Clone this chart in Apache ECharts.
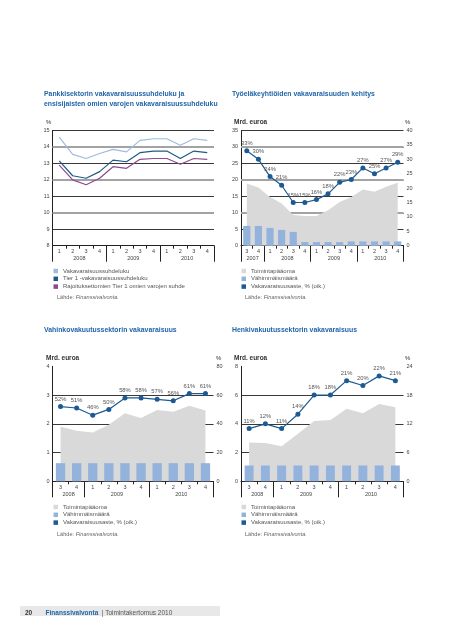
<!DOCTYPE html>
<html><head><meta charset="utf-8">
<script src="https://cdn.jsdelivr.net/npm/echarts@6/dist/echarts.min.js"></script>
<style>html,body{margin:0;padding:0;background:#fff}#c{width:453px;height:640px}</style>
</head><body><div id="c"></div>
<script>
// ---- Chart A: Pankkisektorin vakavaraisuussuhdeluku
const aQuarters = ['1','2','3','4','1','2','3','4','1','2','3','4'];
const aYears = [['2008',4],['2009',4],['2010',4]];
const aTotal = [14.6,13.55,13.3,13.6,13.85,13.7,14.4,14.5,14.5,14.1,14.5,14.4];
const aTier1 = [13.15,12.25,12.1,12.5,13.2,13.1,13.65,13.75,13.75,13.3,13.75,13.65];
const aCore  = [12.9,12.0,11.7,12.1,12.8,12.7,13.25,13.3,13.3,12.95,13.3,13.25];
// ---- Chart B: Työeläkeyhtiöt
const bQuarters = ['3','4','1','2','3','4','1','2','3','4','1','2','3','4'];
const bYears = [['2007',2],['2008',4],['2009',4],['2010',4]];
const bCapital = [18.9,17.7,14.8,12.8,9.3,9.0,9.0,10.8,13.3,14.8,17.1,16.4,17.9,19.1];
const bMinimum = [6.0,6.0,5.4,4.8,4.2,1.1,1.1,1.1,1.1,1.3,1.3,1.3,1.3,1.3];
const bRatio = [33,30,24,21,15,15,16,18,22,23,27,25,27,29];
// ---- Chart C: Vahinkovakuutus
const cQuarters = ['3','4','1','2','3','4','1','2','3','4'];
const cYears = [['2008',2],['2009',4],['2010',4]];
const cCapital = [1.9,1.76,1.7,1.97,2.37,2.2,2.48,2.42,2.63,2.46];
const cMinimum = [0.63,0.63,0.63,0.63,0.63,0.63,0.63,0.63,0.63,0.63];
const cRatio = [52,51,46,50,58,58,57,56,61,61];
// ---- Chart D: Henkivakuutus
const dQuarters = ['3','4','1','2','3','4','1','2','3','4'];
const dYears = [['2008',2],['2009',4],['2010',4]];
const dCapital = [2.7,2.67,2.44,3.3,4.19,4.26,5.05,4.74,5.37,5.16];
const dMinimum = [1.1,1.1,1.1,1.1,1.1,1.1,1.1,1.1,1.1,1.1];
const dRatio = [11,12,11,14,18,18,21,20,22,21];

const FONT = "'Liberation Sans', Arial, sans-serif";
const BLUE = '#1f64a8';
const AX = '#222';
const LBL = '#444';

function quarterAxis(gi, q) {
  return {type:'category', gridIndex:gi, position:'bottom', data:q, boundaryGap:true,
    axisLine:{show:true, lineStyle:{color:AX, width:1}},
    axisTick:{show:true, alignWithLabel:false, interval:0, length:3, lineStyle:{color:AX}},
    axisLabel:{interval:0, fontSize:5.5, color:LBL, margin:3, fontFamily:FONT},
    splitLine:{show:false}};
}
function yearAxis(gi, years) {
  const n = years.reduce((s,y)=>s+y[1],0);
  const data = []; for (let i=0;i<=n;i++) data.push('b'+i);
  const bounds = new Set([0]); const labels = {};
  let acc = 0;
  years.forEach(([name, span]) => { labels[acc + span/2] = name; acc += span; bounds.add(acc); });
  return {type:'category', gridIndex:gi, position:'bottom', boundaryGap:false, data,
    axisLine:{show:false},
    axisTick:{show:true, interval:(i)=>bounds.has(i), length:16, lineStyle:{color:AX, width:1}},
    axisLabel:{interval:(i)=>labels[i]!==undefined, formatter:(v,i)=>labels[i]||'', fontSize:5.5, color:LBL, margin:10, fontFamily:FONT},
    splitLine:{show:false}};
}
function yLeft(gi, min, max, interval, showMax) {
  return {type:'value', gridIndex:gi, position:'left', min, max, interval,
    axisLine:{show:true, lineStyle:{color:AX, width:1}}, axisTick:{show:false},
    axisLabel:{fontSize:5.5, color:LBL, margin:3, fontFamily:FONT},
    splitLine:{show:true, showMinLine:false, showMaxLine:showMax, lineStyle:{color:AX, width:0.9}}, z:0};
}
function yGray(gi, min, max, interval) {
  return {type:'value', gridIndex:gi, position:'left', min, max, interval,
    axisLine:{show:false}, axisTick:{show:false}, axisLabel:{show:false},
    splitLine:{show:true, showMinLine:false, showMaxLine:false, lineStyle:{color:'#a3a3a3', width:2.2}}, z:1};
}
function yRight(gi, min, max, interval) {
  return {type:'value', gridIndex:gi, position:'right', min, max, interval,
    axisLine:{show:false}, axisTick:{show:false},
    axisLabel:{fontSize:5.5, color:LBL, margin:3, fontFamily:FONT},
    splitLine:{show:false}};
}
const lineLabel = {show:true, position:'top', distance:2, fontSize:5.8, color:'#555', formatter:'{c}%', fontFamily:FONT};
function compSeries(xi, yiL, yiR, cap, mini, ratio, bw) {
  return [
    {name:'Toimintapääoma', type:'line', xAxisIndex:xi, yAxisIndex:yiL, data:cap, symbol:'none',
      lineStyle:{width:0}, areaStyle:{color:'#d9d9d9', opacity:1}, itemStyle:{color:'#d9d9d9'}, z:2},
    {name:'Vähimmäismäärä', type:'bar', xAxisIndex:xi, yAxisIndex:yiL, data:mini, barWidth:bw,
      itemStyle:{color:'#93b3dc'}, z:3},
    {name:'Vakavaraisuusaste, % (oik.)', type:'line', xAxisIndex:xi, yAxisIndex:yiR, data:ratio,
      symbol:'circle', symbolSize:5, lineStyle:{color:'#1d5a94', width:1.2}, itemStyle:{color:'#1d5a94'},
      label:lineLabel, z:4}
  ];
}
function legend(left, top, names) {
  return {orient:'vertical', left, top, padding:0, itemGap:0.8, itemWidth:4.5, itemHeight:4.5, icon:'rect',
    data:names, selectedMode:false, textStyle:{fontSize:6, color:'#555', lineHeight:7, fontFamily:FONT}};
}
const compNames = ['Toimintapääoma','Vähimmäismäärä','Vakavaraisuusaste, % (oik.)'];
function txt(left, top, text, size, weight, color) {
  return {type:'text', left, top, style:{text, fontSize:size, fontWeight:weight||'normal', fill:color||'#333',
    fontFamily:FONT, lineHeight:size+3}};
}
function title(x, y, text) {
  return {type:'text', x, y, scaleX:0.86, scaleY:1, originX:0, originY:0,
    style:{text, x:0, y:0, fontSize:8, fontWeight:'bold', fill:BLUE, fontFamily:FONT,
      verticalAlign:'top', align:'left', lineHeight:10}};
}
function source(left, top) {
  return {type:'text', left, top, style:{text:'{a|Lähde: }{b|Finanssivalvonta.}',
    rich:{a:{fontSize:5.6, fill:'#666', fontFamily:FONT}, b:{fontSize:5.6, fill:'#666', fontStyle:'italic', fontFamily:FONT}}}};
}

const option = {
  animation:false,
  textStyle:{fontFamily:FONT},
  grid:[
    {left:52.5, top:130.5, width:161.5, height:115.2},
    {left:241, top:130.5, width:162.5, height:115.2},
    {left:52.5, top:366.3, width:161, height:115},
    {left:241, top:366.3, width:162.5, height:115}
  ],
  xAxis:[quarterAxis(0,aQuarters), yearAxis(0,aYears), quarterAxis(1,bQuarters), yearAxis(1,bYears),
         quarterAxis(2,cQuarters), yearAxis(2,cYears), quarterAxis(3,dQuarters), yearAxis(3,dYears)],
  yAxis:[yLeft(0,8,15,1,true), yGray(0,8,15,2),
         yLeft(1,0,35,5,true), yGray(1,0,35,10), yRight(1,0,40,5),
         yLeft(2,0,4,1,false), yRight(2,0,80,20),
         yLeft(3,0,8,2,false), yRight(3,0,24,6)],
  legend:[
    legend(53.5, 267.5, ['Vakavaraisuussuhdeluku','Tier 1 -vakavaraisuussuhdeluku','Rajoituksettomien Tier 1 omien varojen suhde']),
    legend(241.5, 267.5, compNames),
    legend(53.5, 503.5, compNames),
    legend(241.5, 503.5, compNames)
  ],
  series:[
    {name:'Vakavaraisuussuhdeluku', type:'line', xAxisIndex:0, yAxisIndex:0, data:aTotal, symbol:'none',
      lineStyle:{color:'#9dbcdc', width:1.2}, itemStyle:{color:'#9dbcdc'}, z:4},
    {name:'Tier 1 -vakavaraisuussuhdeluku', type:'line', xAxisIndex:0, yAxisIndex:0, data:aTier1, symbol:'none',
      lineStyle:{color:'#1f5a86', width:1.2}, itemStyle:{color:'#1f5a86'}, z:4},
    {name:'Rajoituksettomien Tier 1 omien varojen suhde', type:'line', xAxisIndex:0, yAxisIndex:0, data:aCore, symbol:'none',
      lineStyle:{color:'#8c4a8f', width:1.2}, itemStyle:{color:'#8c4a8f'}, z:4},
    ...compSeries(2, 2, 4, bCapital, bMinimum, bRatio, '62%'),
    ...compSeries(4, 5, 6, cCapital, cMinimum, cRatio, '58%'),
    ...compSeries(6, 7, 8, dCapital, dMinimum, dRatio, '55%')
  ],
  graphic:[
    title(44, 89, 'Pankkisektorin vakavaraisuussuhdeluku ja\nensisijaisten omien varojen vakavaraisuussuhdeluku'),
    title(232, 89, 'Työeläkeyhtiöiden vakavaraisuuden kehitys'),
    title(44, 325, 'Vahinkovakuutussektorin vakavaraisuus'),
    title(232, 325, 'Henkivakuutussektorin vakavaraisuus'),
    txt(46, 118, '%', 6, 'normal', '#333'),
    txt(234, 117.5, 'Mrd. euroa', 6.5, 'bold', '#333'),
    txt(405, 118, '%', 6, 'normal', '#333'),
    txt(46, 353, 'Mrd. euroa', 6.5, 'bold', '#333'),
    txt(216, 353.5, '%', 6, 'normal', '#333'),
    txt(234, 353, 'Mrd. euroa', 6.5, 'bold', '#333'),
    txt(405, 353.5, '%', 6, 'normal', '#333'),
    source(57, 294), source(245, 294), source(57, 531.5), source(245, 531.5),
    {type:'rect', left:20, top:606, shape:{width:200, height:10}, style:{fill:'#e8e8e8'}},
    {type:'text', left:25, top:607.5, style:{text:'{n|20}    {f|Finanssivalvonta} {t|| Toimintakertomus 2010}',
      rich:{n:{fontSize:6.5, fontWeight:'bold', fill:'#333', fontFamily:FONT},
            f:{fontSize:6.5, fontWeight:'bold', fill:BLUE, fontFamily:FONT},
            t:{fontSize:6.5, fill:'#555', fontFamily:FONT}}}}
  ]
};
echarts.init(document.getElementById('c'), null, {renderer:'canvas'}).setOption(option);
</script></body></html>
